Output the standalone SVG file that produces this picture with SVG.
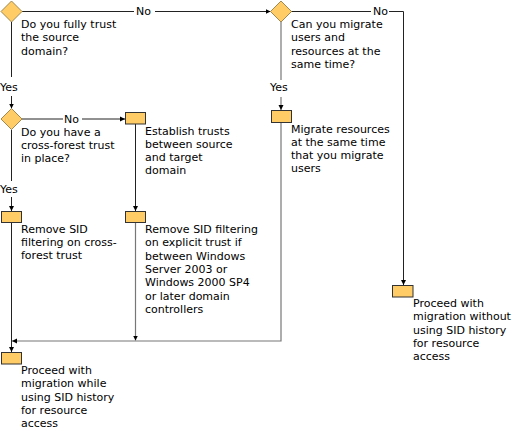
<svg xmlns="http://www.w3.org/2000/svg" width="512" height="431" viewBox="0 0 512 431">
<defs>
<marker id="arr" markerWidth="6" markerHeight="6" refX="5" refY="3" orient="auto" markerUnits="userSpaceOnUse">
<path d="M0,0.5 L5,3 L0,5.5 z" fill="#000"/>
</marker>
<style>
text{font-family:"DejaVu Sans","Verdana",sans-serif;font-size:11px;fill:#000}
.box{fill:#FFCC66;stroke:#333;stroke-width:1}
.dia{fill:#FFCC66;stroke:#a08850;stroke-width:1}
.ln{fill:none;stroke:#222;stroke-width:1}
.lg{fill:none;stroke:#777;stroke-width:1.2}
</style>
</defs>
<rect width="512" height="431" fill="#fff"/>
<g id="connectors">
<path class="ln" d="M22,11.5 H134"/>
<path class="ln" d="M155,11.5 H270.5" marker-end="url(#arr)"/>
<text x="136" y="15">No</text>
<path class="ln" d="M291,11.5 H371"/>
<path class="ln" d="M389,11.5 H403.5 V285" marker-end="url(#arr)"/>
<text x="373" y="15">No</text>
<path class="ln" d="M11.5,22 V77"/>
<path class="ln" d="M11.5,96 V108.5" marker-end="url(#arr)"/>
<text x="0" y="91">Yes</text>
<path class="ln" d="M22,119 H63"/>
<path class="ln" d="M82,119 H125" marker-end="url(#arr)"/>
<text x="64" y="123">No</text>
<path class="ln" d="M11.5,129.5 V181"/>
<path class="ln" d="M11.5,197 V211" marker-end="url(#arr)"/>
<text x="0" y="193">Yes</text>
<path class="ln" d="M135.5,124 V211" marker-end="url(#arr)"/>
<path class="lg" d="M135.5,222.5 V340.5" marker-end="url(#arr)"/>
<path class="lg" d="M281,22 V80"/>
<path class="lg" d="M281,97 V110" marker-end="url(#arr)"/>
<text x="270" y="91">Yes</text>
<path class="lg" d="M281,122.5 V341 H12" marker-end="url(#arr)"/>
<path class="ln" d="M11.5,222.5 V352" marker-end="url(#arr)"/>
</g>
<g id="q1">
<polygon class="dia" points="11.5,1 22,11.5 11.5,22 1,11.5"/>
<text x="21" y="28">Do you fully trust</text>
<text x="21" y="41.3">the source</text>
<text x="21" y="54.6">domain?</text>
</g>
<g id="q2">
<polygon class="dia" points="11.5,108.5 22,119 11.5,129.5 1,119"/>
<text x="21" y="135.5">Do you have a</text>
<text x="21" y="148.8">cross-forest trust</text>
<text x="21" y="162.1">in place?</text>
</g>
<g id="q3">
<polygon class="dia" points="281,1 291.5,11.5 281,22 270.5,11.5"/>
<text x="291" y="28">Can you migrate</text>
<text x="291" y="41.3">users and</text>
<text x="291" y="54.6">resources at the</text>
<text x="291" y="67.9">same time?</text>
</g>
<g id="establish">
<rect class="box" x="125.5" y="112.5" width="20" height="11.5"/>
<text x="145" y="134.5">Establish trusts</text>
<text x="145" y="147.8">between source</text>
<text x="145" y="161.1">and target</text>
<text x="145" y="174.4">domain</text>
</g>
<g id="remove-cross">
<rect class="box" x="1.5" y="211.5" width="20" height="11"/>
<text x="21" y="232.5">Remove SID</text>
<text x="21" y="245.8">filtering on cross-</text>
<text x="21" y="259.1">forest trust</text>
</g>
<g id="remove-explicit">
<rect class="box" x="125.5" y="211.5" width="20" height="11"/>
<text x="145" y="233">Remove SID filtering</text>
<text x="145" y="246.3">on explicit trust if</text>
<text x="145" y="259.6">between Windows</text>
<text x="145" y="272.9">Server 2003 or</text>
<text x="145" y="286.2">Windows 2000 SP4</text>
<text x="145" y="299.5">or later domain</text>
<text x="145" y="312.8">controllers</text>
</g>
<g id="migrate">
<rect class="box" x="271.5" y="110.5" width="20" height="12"/>
<text x="291" y="132.5">Migrate resources</text>
<text x="291" y="145.8">at the same time</text>
<text x="291" y="159.1">that you migrate</text>
<text x="291" y="172.4">users</text>
</g>
<g id="proceed-with">
<rect class="box" x="1.5" y="352.5" width="20" height="11.5"/>
<text x="21" y="374">Proceed with</text>
<text x="21" y="387.3">migration while</text>
<text x="21" y="400.6">using SID history</text>
<text x="21" y="413.9">for resource</text>
<text x="21" y="427.2">access</text>
</g>
<g id="proceed-without">
<rect class="box" x="392.5" y="285.5" width="20.5" height="11.5"/>
<text x="413" y="307">Proceed with</text>
<text x="413" y="320.3">migration without</text>
<text x="413" y="333.6">using SID history</text>
<text x="413" y="346.9">for resource</text>
<text x="413" y="360.2">access</text>
</g>
</svg>
